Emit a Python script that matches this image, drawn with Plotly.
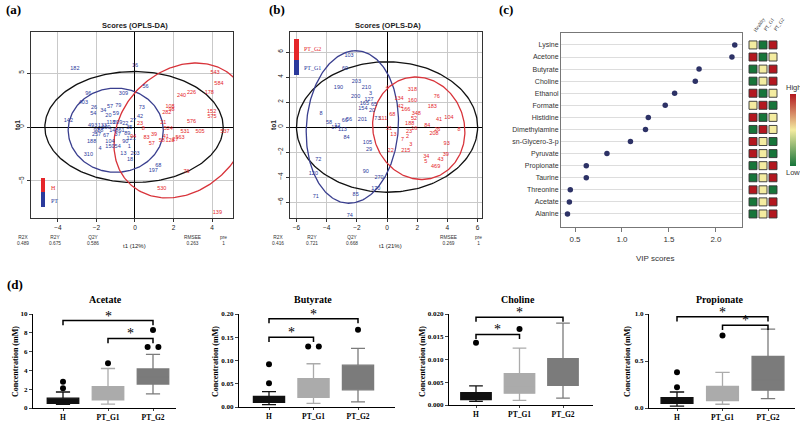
import numpy as np
import plotly.graph_objects as go

W, H = 800, 424
SANS = "Liberation Sans, Arial, sans-serif"
SERIF = "Liberation Serif, Times New Roman, serif"
BLUE = "#2b3a9c"
RED = "#e5262a"
E_BLUE = "#3a3f8f"
E_RED = "#d8333a"


def xd(a, b):
    return [a / W, b / W]


def yd(top, bottom):
    return [1 - bottom / H, 1 - top / H]


def px(x):
    return x / W


def py(y):
    return 1 - y / H


# ---------------- (a) OPLS-DA scores: H vs PT
a_blue_lab = ["182", "16", "56", "96", "403", "309", "57", "79", "26", "34", "59", "54", "20", "73", "42", "142",
              "188", "4", "104", "13", "203", "18", "310", "68", "197", "493", "133", "118", "209", "22", "109",
              "97", "148", "61", "35", "257", "67", "37", "89", "150", "54", "90", "121", "88", "27", "1"]
a_blue_x = [-3.12, 0.0, 0.55, -2.42, -2.68, -0.6, -1.3, -0.87, -2.13, -1.65, -0.99, -2.16, -1.38, 0.35, 0.26, -3.46,
            -2.25, -1.82, -1.3, -0.6, 0.0, -0.26, -2.42, 1.21, 0.95, -2.2, -1.7, -1.25, -0.9, -0.5, -1.5,
            -2.0, -1.1, -0.7, -0.3, -2.0, -1.5, -0.9, -0.4, -1.3, -0.9, -0.5, -0.2, -1.8, -0.1, -0.3]
a_blue_y = [5.4, 5.65, 3.7, 3.09, 2.22, 3.09, 1.9, 2.0, 1.8, 1.48, 1.23, 1.25, 1.08, 1.76, 0.93, 0.55,
            -1.39, -2.0, -1.39, -2.47, -2.47, -3.0, -2.53, -3.55, -4.0, 0.15, 0.15, 0.4, 0.4, 0.3, -0.1,
            -0.35, -0.35, -0.3, -0.1, -0.75, -0.8, -0.75, -0.6, -1.8, -1.85, -1.4, -1.1, -0.3, 0.55, -1.8]
a_red_lab = ["543", "584", "240", "226", "178", "108", "98", "282", "152", "575", "576", "21", "524", "531", "505",
             "537", "563", "128", "39", "57", "58", "76", "530", "139", "8", "94", "23", "41", "27", "83"]
a_red_x = [4.16, 4.36, 2.42, 2.94, 3.86, 1.82, 1.9, 1.65, 3.98, 4.0, 2.94, 1.47, 1.73, 2.6, 3.38,
           4.68, 2.34, 1.82, 0.99, 0.87, 1.39, 2.68, 1.39, 4.28, 0.43, -0.09, 0.26, 1.6, 2.1, 0.6]
a_red_y = [5.0, 4.0, 2.93, 3.15, 3.15, 1.9, 1.6, 1.35, 1.4, 1.0, 0.46, 0.37, -0.15, -0.46, -0.46,
           -0.46, -0.99, -1.3, -0.71, -1.54, -1.23, -4.17, -5.7, -7.96, -0.15, -0.9, 0.31, -0.9, -1.2, -1.0]
a_ell_color = ["#111111", E_BLUE, E_RED]
a_ell_c = [(-0.05, 0.0), (-1.0, -0.3), (2.42, -0.32)]
a_ell_u = [(4.63, 0.0), (2.47, 0.0), (0.75, 6.25)]
a_ell_v = [(0.0, 5.14), (0.0, 3.9), (3.43, 0.0)]
a_stats_lab = ["R2X", "R2Y", "Q2Y", "RMSEE", "pre"]
a_stats_val = ["0.489", "0.675", "0.586", "0.263", "1"]
a_xtitle = "t1 (12%)"
a_legend = ["H", "PT"]

# ---------------- (b) OPLS-DA scores: PT_G1 vs PT_G2
b_blue_lab = ["103", "69", "203", "190", "210", "200", "127", "3", "65", "8", "58", "174", "56", "113", "84",
              "201", "73", "105", "29", "90", "72", "120", "71", "85", "170", "74", "270", "165", "20", "154",
              "66", "12"]
b_blue_x = [-2.52, -2.78, -2.03, -3.22, -1.37, -2.08, -1.19, -1.1, -0.86, -4.37, -3.84, -3.4, -2.52, -2.96, -2.69,
            -1.63, -0.64, -1.3, -1.19, -1.41, -4.55, -4.88, -4.72, -2.08, -0.75, -2.47, -0.53, -1.5, -1.0, -1.6,
            -2.8, -3.3]
b_blue_y = [5.68, 4.69, 3.63, 3.15, 3.17, 2.43, 2.16, 2.7, 1.76, 1.04, 0.35, -0.03, 0.61, -0.19, -0.83,
            0.56, 0.69, -1.25, -1.79, -3.57, -2.59, -3.71, -5.57, -5.44, -4.91, -7.1, -4.03, 1.9, 1.3, 1.5,
            0.55, 0.1]
b_red_lab = ["4", "318", "134", "160", "76", "183", "68", "166", "348", "52", "41", "104", "111", "31", "13",
             "23", "84", "26", "8", "208", "2", "7", "3", "93", "215", "22", "39", "34", "5", "43",
             "469", "42", "16", "188"]
b_red_x = [0.02, 1.68, 0.79, 1.68, 3.29, 3.0, 0.35, 1.24, 1.94, 1.79, 3.44, 4.1, -0.26, 0.13, 0.42,
           1.46, 2.67, 3.33, 4.77, 3.11, 1.35, 1.02, 1.57, 3.95, 1.24, 0.24, 3.89, 2.6, 2.56, 3.55,
           3.22, 0.9, 1.8, 1.5]
b_red_y = [3.17, 3.01, 2.29, 2.11, 2.43, 1.63, 0.96, 1.36, 1.04, 0.69, 0.56, 0.77, 0.69, -0.1, -0.64,
           -0.37, 0.08, -0.24, -0.19, -0.56, -0.77, -1.04, -1.44, -1.36, -1.89, -1.89, -2.24, -2.37, -2.77, -2.64,
           -3.17, 1.6, -0.1, 0.3]
b_ell_color = ["#111111", E_BLUE, E_RED]
b_ell_c = [(0.0, 0.0), (-2.3, 0.0), (2.1, -0.1)]
b_ell_u = [(6.0, 0.0), (0.22, 6.1), (-0.2, 4.1)]
b_ell_v = [(0.0, 5.22), (3.05, 0.0), (3.05, 0.0)]
b_stats_lab = ["R2X", "R2Y", "Q2Y", "RMSEE", "pre"]
b_stats_val = ["0.416", "0.721", "0.668", "0.269", "1"]
b_xtitle = "t1 (21%)"
b_legend = ["PT_G2", "PT_G1"]

# ---------------- (c) VIP scores + group heatmap
vip_names = ["Lysine", "Acetone", "Butyrate", "Choline", "Ethanol", "Formate", "Histidine", "Dimethylamine",
             "sn-Glycero-3-p", "Pyruvate", "Propionate", "Taurine", "Threonine", "Acetate", "Alanine"]
vip_scores = [2.20, 2.17, 1.82, 1.78, 1.56, 1.46, 1.28, 1.25, 1.09, 0.84, 0.62, 0.62, 0.45, 0.44, 0.42]
heat_groups = ["Healthy", "PT_G1", "PT_G2"]
# 0 = low (green), 0.5 = mid (yellow), 1 = high (red)
heat_healthy = [0.5, 1, 0, 0, 1, 0.5, 1, 0, 1, 1, 0, 0, 1, 0, 0]
heat_g1 = [0, 0, 0.5, 0.5, 0, 1, 0, 1, 0.5, 0.5, 0.5, 0.5, 0.5, 0.5, 0.5]
heat_g2 = [1, 0.5, 1, 1, 0.5, 0, 0.5, 0.5, 0, 0, 1, 1, 0, 1, 1]

# ---------------- (d) box plots
box_groups = ["H", "PT_G1", "PT_G2"]
acet_q1 = [0.5, 0.88, 2.55]
acet_med = [0.75, 1.2, 3.3]
acet_q3 = [1.05, 2.28, 4.15]
acet_lo = [0.38, 0.42, 1.5]
acet_hi = [1.7, 4.2, 5.7]
acet_out_g = [0, 0, 1, 2, 2, 2]
acet_out_v = [2.1, 2.8, 4.75, 6.5, 6.5, 8.3]
acet_sig = [(0, 2, 9.3), (1, 2, 7.4)]

buty_q1 = [0.010, 0.021, 0.037]
buty_med = [0.016, 0.035, 0.055]
buty_q3 = [0.023, 0.061, 0.090]
buty_lo = [0.005, 0.008, 0.011]
buty_hi = [0.033, 0.093, 0.126]
buty_out_g = [0, 0, 1, 1, 2]
buty_out_v = [0.051, 0.092, 0.13, 0.13, 0.166]
buty_sig = [(0, 2, 0.19), (0, 1, 0.15)]

chol_q1 = [0.0012, 0.0026, 0.0043]
chol_med = [0.0018, 0.0040, 0.0065]
chol_q3 = [0.0027, 0.0069, 0.0102]
chol_lo = [0.0008, 0.0010, 0.0015]
chol_hi = [0.0042, 0.0125, 0.0180]
chol_out_g = [0, 1]
chol_out_v = [0.0137, 0.0167]
chol_sig = [(0, 2, 0.0193), (0, 1, 0.0155)]

prop_q1 = [0.05, 0.08, 0.19]
prop_med = [0.08, 0.12, 0.30]
prop_q3 = [0.11, 0.23, 0.55]
prop_lo = [0.02, 0.04, 0.10]
prop_hi = [0.17, 0.38, 0.84]
prop_out_g = [0, 0, 1]
prop_out_v = [0.22, 0.38, 0.77]
prop_sig = [(0, 2, 0.97), (1, 2, 0.88)]

fig = go.Figure()
ann = []
shapes = []


def note(x, y, text, size, family=SANS, color="#222222", **kw):
    # paper-anchored text placed by pixel position (centre unless told otherwise)
    d = dict(x=px(x), y=py(y), xref="paper", yref="paper", text=text, showarrow=False,
             xanchor="center", yanchor="middle", font=dict(size=size, family=family, color=color))
    d.update(kw)
    ann.append(d)


def ellipse(c, u, v, n=240):
    t = np.linspace(0, 2 * np.pi, n)
    return (c[0] + u[0] * np.cos(t) + v[0] * np.sin(t),
            c[1] + u[1] * np.cos(t) + v[1] * np.sin(t))


# ---- (a) and (b) score plots
score_panels = [
    dict(xa="x", ya="y", blue=(a_blue_lab, a_blue_x, a_blue_y), red=(a_red_lab, a_red_x, a_red_y),
         ell=(a_ell_color, a_ell_c, a_ell_u, a_ell_v)),
    dict(xa="x2", ya="y2", blue=(b_blue_lab, b_blue_x, b_blue_y), red=(b_red_lab, b_red_x, b_red_y),
         ell=(b_ell_color, b_ell_c, b_ell_u, b_ell_v)),
]
for p in score_panels:
    cols, cs, us, vs = p["ell"]
    for col, c, u, v in zip(cols, cs, us, vs):
        ex, ey = ellipse(c, u, v)
        fig.add_trace(go.Scatter(x=ex, y=ey, mode="lines", line=dict(color=col, width=1.3),
                                 xaxis=p["xa"], yaxis=p["ya"], hoverinfo="skip"))
    for (lab, xs, ys), col in [(p["blue"], BLUE), (p["red"], RED)]:
        fig.add_trace(go.Scatter(x=xs, y=ys, text=lab, mode="text",
                                 textfont=dict(size=5.5, color=col, family=SANS),
                                 xaxis=p["xa"], yaxis=p["ya"], hoverinfo="skip"))

score_axis = dict(showgrid=True, gridcolor="#c9c9c9", gridwidth=1, zeroline=True, zerolinecolor="black",
                  zerolinewidth=1.3, showline=True, mirror=True, linecolor="#333333", linewidth=1,
                  ticks="outside", ticklen=3, tickcolor="#333333",
                  tickfont=dict(size=6.5, family=SANS, color="#222222"))

# stats rows and titles
for labs, vals, xs in [(a_stats_lab, a_stats_val, [23, 55, 93, 192, 223]),
                       (b_stats_lab, b_stats_val, [278, 312, 352, 448, 478])]:
    for lb, vl, x in zip(labs, vals, xs):
        note(x, 240, lb + "<br>" + vl, 4.8, color="#333333")
for t, x in [(a_xtitle, 134), (b_xtitle, 390)]:
    note(x, 246, t, 6)
for x in [135, 388]:
    note(x, 25, "<b>Scores (OPLS-DA)</b>", 7.5)
for x in [18, 274]:
    note(x, 125, "<b>to1</b>", 6.5, textangle=-90)

# legend keys of the score plots
for (x0, x1, y0, y1), col in [((41, 45, 178, 192), RED), ((41, 45, 192, 207), BLUE),
                              ((294, 299, 39, 60), RED), ((294, 299, 60, 75), BLUE)]:
    shapes.append(dict(type="rect", xref="paper", yref="paper", x0=px(x0), x1=px(x1), y0=py(y1), y1=py(y0),
                       fillcolor=col, line=dict(width=0)))
for txt, x, y, col in [(a_legend[0], 49, 188, RED), (a_legend[1], 49, 201, BLUE),
                       (b_legend[0], 302, 49, RED), (b_legend[1], 302, 68, BLUE)]:
    note(x, y, txt, 6, family=SERIF, color=col, xanchor="left")

# ---- (c) VIP
fig.add_trace(go.Scatter(x=vip_scores, y=vip_names, mode="markers",
                         marker=dict(size=5.5, color="#2d3266"), xaxis="x3", yaxis="y3", hoverinfo="skip"))
heat_levels = [heat_healthy, heat_g1, heat_g2]
hx, hy, hz = [], [], []
for gi, lv in enumerate(heat_levels):
    hx += [gi] * len(vip_names)
    hy += vip_names
    hz += lv
fig.add_trace(go.Scatter(
    x=hx, y=hy, mode="markers", xaxis="x4", yaxis="y4", hoverinfo="skip",
    marker=dict(symbol="square", size=8, color=hz, cmin=0, cmax=1,
                colorscale=[[0, "#17753a"], [0.5, "#f4eca0"], [1, "#b3171f"]],
                line=dict(color="#333333", width=0.9), showscale=True,
                colorbar=dict(x=px(790), xanchor="left", y=py(130), yanchor="middle", len=72 / H,
                              thickness=6, xpad=0, ypad=0, outlinewidth=0, showticklabels=False,
                              ticks=""))))
for gi, g in enumerate(heat_groups):
    note(750 + gi * 10, 35, g, 5, family=SERIF, textangle=-55, xanchor="left", yanchor="bottom")
note(793, 88, "High", 7.5, color="#333333")
note(793, 172, "Low", 7.5, color="#333333")
note(655, 258, "VIP scores", 8, color="#333333")

# ---- (d) box plots
box_fill = ["#111111", "#ababab", "#7b7b7b"]
d_panels = [
    dict(name="Acetate", q1=acet_q1, med=acet_med, q3=acet_q3, lo=acet_lo, hi=acet_hi, og=acet_out_g,
         ov=acet_out_v, sig=acet_sig, ymax=10, ticks=[0, 2, 4, 6, 8, 10], fmt="d",
         geo=(33, 176, 63, 45, 314, 408), ytx=15, ttx=105),
    dict(name="Butyrate", q1=buty_q1, med=buty_med, q3=buty_q3, lo=buty_lo, hi=buty_hi, og=buty_out_g,
         ov=buty_out_v, sig=buty_sig, ymax=0.20, ticks=[0, 0.05, 0.10, 0.15, 0.20], fmt=".2f",
         geo=(239, 395, 269, 44.5, 314, 407), ytx=215, ttx=313),
    dict(name="Choline", q1=chol_q1, med=chol_med, q3=chol_q3, lo=chol_lo, hi=chol_hi, og=chol_out_g,
         ov=chol_out_v, sig=chol_sig, ymax=0.020, ticks=[0, 0.005, 0.010, 0.015, 0.020], fmt=".3f",
         geo=(449, 593, 476, 43.5, 314, 405), ytx=422, ttx=518),
    dict(name="Propionate", q1=prop_q1, med=prop_med, q3=prop_q3, lo=prop_lo, hi=prop_hi, og=prop_out_g,
         ov=prop_out_v, sig=prop_sig, ymax=1.0, ticks=[0, 0.5, 1.0], fmt=".1f",
         geo=(649, 795, 677, 45.5, 314, 408), ytx=627, ttx=720),
]
layout_axes = {}
for k, p in enumerate(d_panels):
    n = 5 + k
    xa, ya = "x%d" % n, "y%d" % n
    for gi in range(3):
        fig.add_trace(go.Box(x=[gi], q1=[p["q1"][gi]], median=[p["med"][gi]], q3=[p["q3"][gi]],
                             lowerfence=[p["lo"][gi]], upperfence=[p["hi"][gi]], width=0.7, whiskerwidth=0.45,
                             fillcolor=box_fill[gi], line=dict(color=box_fill[gi], width=1.3),
                             boxpoints=False, xaxis=xa, yaxis=ya, hoverinfo="skip"))
    # outliers (duplicates side by side)
    ox, oy = [], []
    for g, v in zip(p["og"], p["ov"]):
        dup = [i for i, (g2, v2) in enumerate(zip(p["og"], p["ov"])) if g2 == g and v2 == v]
        off = 0.0
        if len(dup) > 1:
            off = -0.12 if len([1 for y0 in oy if y0 == v]) == 0 else 0.12
        ox.append(g + off)
        oy.append(v)
    fig.add_trace(go.Scatter(x=ox, y=oy, mode="markers", marker=dict(size=6, color="black"),
                             xaxis=xa, yaxis=ya, hoverinfo="skip", cliponaxis=False))
    d = 0.05 * p["ymax"]
    for g1, g2, h in p["sig"]:
        fig.add_trace(go.Scatter(x=[g1, g1, g2, g2], y=[h - d, h, h, h - d], mode="lines",
                                 line=dict(color="black", width=1.5), xaxis=xa, yaxis=ya,
                                 hoverinfo="skip", cliponaxis=False))
        ann.append(dict(x=(g1 + g2) / 2, y=h, xref=xa, yref=ya, text="*", showarrow=False,
                        xanchor="center", yanchor="bottom", yshift=-5,
                        font=dict(size=14, family=SERIF, color="black")))
    x0, x1, hc, sp, yt, yb = p["geo"]
    layout_axes["xaxis%d" % n] = dict(
        domain=xd(x0, x1), range=[(x0 - hc) / sp, (x1 - hc) / sp], anchor=ya,
        tickvals=[0, 1, 2], ticktext=box_groups, showgrid=False, zeroline=False, showline=True,
        linecolor="black", linewidth=1.4, ticks="outside", ticklen=2, tickwidth=1.2,
        tickfont=dict(size=7.5, family=SERIF, color="black", weight="bold"))
    layout_axes["yaxis%d" % n] = dict(
        domain=yd(yt, yb), range=[0, p["ymax"]], anchor=xa, tickvals=p["ticks"], tickformat=p["fmt"],
        showgrid=False, zeroline=False, showline=True, linecolor="black", linewidth=1.4,
        ticks="outside", ticklen=3, tickwidth=1.2,
        tickfont=dict(size=7, family=SERIF, color="black", weight="bold"))
    note(p["ttx"], 299, "<b>%s</b>" % p["name"], 10, family=SERIF, color="black")
    note(p["ytx"], 362, "<b>Concentration (mM)</b>", 8, family=SERIF, color="black", textangle=-90)

# panel labels
for t, x, y in [("(a)", 13, 9), ("(b)", 277, 9), ("(c)", 506, 9), ("(d)", 15, 284)]:
    note(x, y, "<b>%s</b>" % t, 13, family=SERIF, color="black")

fig.update_layout(
    width=W, height=H, margin=dict(l=0, r=0, t=0, b=0, autoexpand=False), showlegend=False,
    paper_bgcolor="white", plot_bgcolor="white", boxmode="overlay",
    xaxis=dict(score_axis, domain=xd(31, 233), range=[-5.40, 5.09], tickvals=[-4, -2, 0, 2, 4], anchor="y"),
    yaxis=dict(score_axis, domain=yd(32, 218), range=[-8.43, 8.80], tickvals=[-5, 0, 5], tickangle=-90,
               anchor="x"),
    xaxis2=dict(score_axis, domain=xd(290, 482), range=[-6.43, 6.29], tickvals=[-6, -4, -2, 0, 2, 4, 6],
                anchor="y2"),
    yaxis2=dict(score_axis, domain=yd(32, 218), range=[-7.28, 7.6], tickvals=[-6, -4, -2, 0, 2, 4, 6],
                tickangle=-90, anchor="x2"),
    xaxis3=dict(domain=xd(561, 742), range=[0.351, 2.277], anchor="y3", tickvals=[0.5, 1.0, 1.5, 2.0],
                tickformat=".1f", showgrid=False, zeroline=False, showline=True, mirror=True,
                linecolor="#777777", ticks="outside", ticklen=4, tickcolor="#777777",
                tickfont=dict(size=8, family=SANS, color="#333333")),
    yaxis3=dict(domain=yd(33, 227), type="category", categoryarray=vip_names, range=[15.08, -0.99],
                anchor="x3", showgrid=True, gridcolor="#dddddd", showline=True, mirror=True,
                linecolor="#777777", ticks="", tickfont=dict(size=7, family=SANS, color="#333333")),
    xaxis4=dict(domain=xd(745, 781), range=[-0.8, 2.8], anchor="y4", visible=False),
    yaxis4=dict(domain=yd(33, 227), type="category", categoryarray=vip_names, range=[15.08, -0.99],
                anchor="x4", visible=False),
    annotations=ann, shapes=shapes,
)
fig.update_layout(**layout_axes)

# the page's default body margin would push the fixed-size figure off the window
fig.write_html("out.html", config={"displayModeBar": False},
               post_script="document.body.style.margin='0';")
